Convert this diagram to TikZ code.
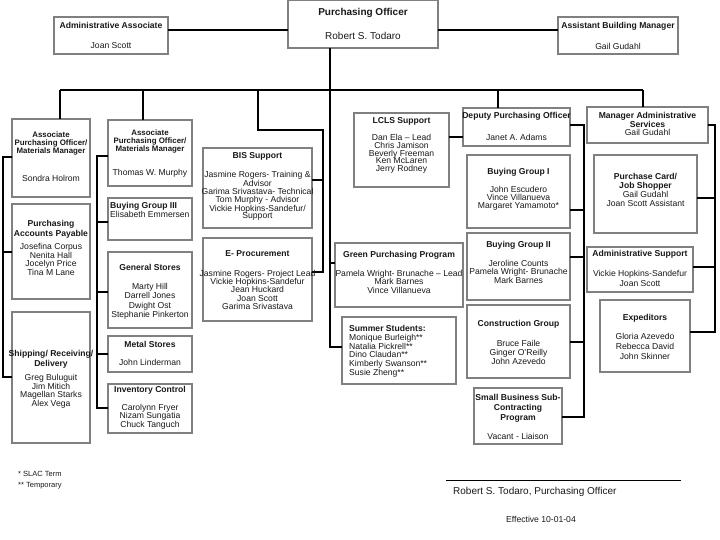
\documentclass[tikz,border=0pt]{standalone}
\usepackage{fontspec}
\setmainfont{Liberation Sans}
\definecolor{boxgray}{RGB}{128,128,128}
\definecolor{txtc}{RGB}{25,25,25}
\newcommand{\fsz}[2]{\fontsize{#1}{#2}\selectfont}
\newcommand{\obx}[5]{\node[box,minimum width={(#4-#2)*1pt},minimum height={(#5-#3)*1pt}] (#1) at ({(#2+#4)/2},{(#3+#5)/2}) {};}
\begin{document}
\begin{tikzpicture}[x=1pt,y=-1pt,
  box/.style={draw=boxgray,line width=1.1pt,fill=white,inner sep=0pt,outer sep=0pt},
  conn/.style={draw=black,line width=1.6pt},
  lbl/.style={inner sep=0pt,align=center,anchor=north,text=txtc,font=\fsz{8.6}{8.6}},
  ttl/.style={lbl,font=\bfseries\fsz{8.6}{8.6}},
  lbll/.style={lbl,align=left,anchor=north west},
  ttll/.style={ttl,align=left,anchor=north west}]
\useasboundingbox[fill=white] (0,0) rectangle (720,540);

% ---------- boxes ----------
\obx{PO}{288}{0.6}{438}{48}
\obx{AA}{54}{17}{168}{54}
\obx{ABM}{558}{17}{678}{54}
\obx{APOa}{12}{119}{90}{197}
\obx{PAP}{12}{204}{90}{299}
\obx{SRD}{12}{312}{90}{443}
\obx{APOb}{108}{120}{192}{186}
\obx{BGiii}{108}{198}{192}{240}
\obx{GS}{108}{252}{192}{328}
\obx{MS}{108}{336}{192}{372}
\obx{IC}{108}{384}{192}{433}
\obx{BIS}{203}{148}{312}{228}
\obx{EP}{203}{238}{312}{321}
\obx{LCLS}{354}{113}{449}{187}
\obx{GPP}{335}{243}{463}{307}
\obx{SS}{342}{317}{456}{384}
\obx{DPO}{463}{108}{570}{146}
\obx{BGi}{467}{155}{570}{228}
\obx{BGii}{467}{233}{570}{300}
\obx{CG}{467}{305}{570}{378}
\obx{SB}{474}{388}{562}{444}
\obx{MAS}{587}{107}{708}{143}
\obx{PC}{594}{155}{697}{233}
\obx{AS}{587}{247}{693}{292}
\obx{EXP}{600}{300}{690}{372}

% ---------- connectors ----------
\coordinate (busL) at (60,90);
\coordinate (busR) at (642.7,90);
\coordinate (trunk) at (330,90);
\coordinate (b2) at (143,90);
\coordinate (b3) at (257.7,90);
\coordinate (k3) at (322.7,130);
\coordinate (b5) at (497.7,90);
\coordinate (lc) at (3,157);
\coordinate (mc) at (97,156);
\coordinate (dc) at (584,125);
\coordinate (ec) at (715,125);

\draw[conn] (AA.east |- 0,30) -- (PO.west |- 0,30);
\draw[conn] (PO.east |- 0,30) -- (ABM.west |- 0,30);
\draw[conn] (busL) -- (busR);
\draw[conn] (PO.south -| trunk) -- (trunk |- 0,347) -- (SS.west |- 0,347);
\draw[conn] (trunk |- 0,263) -- (GPP.west |- 0,263);
\draw[conn] (busL) -- (busL |- APOa.north);
\draw[conn] (b2) -- (b2 |- APOb.north);
\draw[conn] (b3) -- (b3 |- k3) -- (k3) -- (k3 |- 0,272) -- (EP.east |- 0,272);
\draw[conn] (k3 |- 0,180) -- (BIS.east |- 0,180);
\draw[conn] (b5) -- (b5 |- DPO.north);
\draw[conn] (busR) -- (busR |- MAS.north);
% left column
\draw[conn] (APOa.west |- lc) -- (lc) -- (lc |- 0,377) -- (SRD.west |- 0,377);
\draw[conn] (lc |- 0,252) -- (PAP.west |- 0,252);
% second column
\draw[conn] (APOb.west |- mc) -- (mc) -- (mc |- 0,408) -- (IC.west |- 0,408);
\draw[conn] (mc |- 0,222) -- (BGiii.west |- 0,222);
\draw[conn] (mc |- 0,292) -- (GS.west |- 0,292);
\draw[conn] (mc |- 0,354) -- (MS.west |- 0,354);
% LCLS to deputy
\draw[conn] (LCLS.east |- 0,137) -- (DPO.west |- 0,137);
% deputy group
\draw[conn] (DPO.east |- dc) -- (dc) -- (dc |- 0,417) -- (SB.east |- 0,417);
\draw[conn] (dc |- 0,210) -- (BGi.east |- 0,210);
\draw[conn] (dc |- 0,257) -- (BGii.east |- 0,257);
\draw[conn] (dc |- 0,342) -- (CG.east |- 0,342);
% admin services group
\draw[conn] (MAS.east |- ec) -- (ec) -- (ec |- 0,332) -- (EXP.east |- 0,332);
\draw[conn] (ec |- 0,198) -- (PC.east |- 0,198);
\draw[conn] (ec |- 0,267) -- (AS.east |- 0,267);

% ---------- texts ----------
\node[ttl,font=\bfseries\fsz{10}{10}] (tPO) at (363,8.4) {Purchasing Officer};
\node[lbl,font=\fsz{10}{10}] (nPO) at (363,32.4) {Robert S. Todaro};
\node[ttl] (tAA) at (111,22) {Administrative Associate};
\node[lbl] (nAA) at (111,42.5) {Joan Scott};
\node[ttl] (tABM) at (618,22) {Assistant Building Manager};
\node[lbl] (nABM) at (618,43) {Gail Gudahl};

\node[ttl,font=\bfseries\fsz{7.9}{7.6}] (tAPOa) at (51,132) {Associate\\Purchasing Officer/\\Materials Manager};
\node[lbl] (nAPOa) at (51,175) {Sondra Holrom};
\node[ttl,font=\bfseries\fsz{8.6}{10}] (tPAP) at (51,220) {Purchasing\\Accounts Payable};
\node[lbl,font=\fsz{8.6}{8.7}] (nPAP) at (51,243) {Josefina Corpus\\Nenita Hall\\Jocelyn Price\\Tina M Lane};
\node[ttl,font=\bfseries\fsz{8.6}{10}] (tSRD) at (51,350) {Shipping/ Receiving/\\Delivery};
\node[lbl,font=\fsz{8.6}{8.7}] (nSRD) at (51,374) {Greg Buluguit\\Jim Mitich\\Magellan Starks\\Alex Vega};

\node[ttl,font=\bfseries\fsz{7.9}{7.6}] (tAPOb) at (150,130) {Associate\\Purchasing Officer/\\Materials Manager};
\node[lbl] (nAPOb) at (150,169) {Thomas W. Murphy};
\node[ttll] (tBGiii) at (110,202) {Buying Group III};
\node[lbll] (nBGiii) at (110,211.5) {Elisabeth Emmersen};
\node[ttl] (tGS) at (150,264) {General Stores};
\node[lbl,font=\fsz{8.6}{9.3}] (nGS) at (150,283) {Marty Hill\\Darrell Jones\\Dwight Ost\\Stephanie Pinkerton};
\node[ttl] (tMS) at (150,341) {Metal Stores};
\node[lbl] (nMS) at (150,359) {John Linderman};
\node[ttl] (tIC) at (150,386.5) {Inventory Control};
\node[lbl,font=\fsz{8.6}{8.5}] (nIC) at (150,404) {Carolynn Fryer\\Nizam Sungatia\\Chuck Tanguch};

\node[ttl] (tBIS) at (257.5,152) {BIS Support};
\node[lbl,font=\fsz{8.6}{7.8}] (nBIS) at (257.5,171) {Jasmine Rogers- Training \&\\Advisor\\Garima Srivastava- Technical\\Tom Murphy - Advisor\\Vickie Hopkins-Sandefur/\\Support};
\node[ttl] (tEP) at (257.5,250) {E- Procurement};
\node[lbl,font=\fsz{8.6}{8.2}] (nEP) at (257.5,270) {Jasmine Rogers- Project Lead\\Vickie Hopkins-Sandefur\\Jean Huckard\\Joan Scott\\Garima Srivastava};

\node[ttl] (tLCLS) at (401.5,117) {LCLS Support};
\node[lbl,font=\fsz{8.6}{7.8}] (nLCLS) at (401.5,134) {Dan Ela -- Lead\\Chris Jamison\\Beverly Freeman\\Ken McLaren\\Jerry Rodney};
\node[ttl] (tGPP) at (399,251) {Green Purchasing Program};
\node[lbl,font=\fsz{8.6}{8.5}] (nGPP) at (399,270) {Pamela Wright- Brunache -- Lead\\Mark Barnes\\Vince Villanueva};
\node[ttll] (tSS) at (349,325) {Summer Students:};
\node[lbll,font=\fsz{8.6}{8.7}] (nSS) at (349,334) {Monique Burleigh**\\Natalia Pickrell**\\Dino Claudan**\\Kimberly Swanson**\\Susie Zheng**};

\node[ttl] (tDPO) at (516.5,112) {Deputy Purchasing Officer};
\node[lbl] (nDPO) at (516.5,134) {Janet A. Adams};
\node[ttl] (tBGi) at (518.5,168) {Buying Group I};
\node[lbl,font=\fsz{8.6}{8}] (nBGi) at (518.5,186) {John Escudero\\Vince Villanueva\\Margaret Yamamoto*};
\node[ttl] (tBGii) at (518.5,241) {Buying Group II};
\node[lbl,font=\fsz{8.6}{8}] (nBGii) at (518.5,260) {Jeroline Counts\\Pamela Wright- Brunache\\Mark Barnes};
\node[ttl] (tCG) at (518.5,320) {Construction Group};
\node[lbl,font=\fsz{8.6}{9}] (nCG) at (518.5,340) {Bruce Faile\\Ginger O'Reilly\\John Azevedo};
\node[ttl,font=\bfseries\fsz{8.6}{10}] (tSB) at (518,394) {Small Business Sub-\\Contracting\\Program};
\node[lbl] (nSB) at (518,433) {Vacant - Liaison};

\node[ttl,font=\bfseries\fsz{8.6}{8.7}] (tMAS) at (647.5,112) {Manager Administrative\\Services};
\node[lbl] (nMAS) at (647.5,129.5) {Gail Gudahl};
\node[ttl,font=\bfseries\fsz{8.6}{9}] (tPC) at (645.5,173) {Purchase Card/\\Job Shopper};
\node[lbl,font=\fsz{8.6}{9}] (nPC) at (645.5,191) {Gail Gudahl\\Joan Scott Assistant};
\node[ttl] (tAS) at (640,250) {Administrative Support};
\node[lbl,font=\fsz{8.6}{10}] (nAS) at (640,270) {Vickie Hopkins-Sandefur\\Joan Scott};
\node[ttl] (tEXP) at (645,314) {Expeditors};
\node[lbl,font=\fsz{8.6}{10}] (nEXP) at (645,333) {Gloria Azevedo\\Rebecca David\\John Skinner};

% ---------- footer ----------
\node[lbll,font=\fsz{7.5}{11}] (notes) at (18,471.5) {* SLAC Term\\** Temporary};
\coordinate (sigL) at (446,480);
\coordinate (sigR) at (681,480);
\draw[line width=0.8pt] (sigL) -- (sigR);
\node[lbll,font=\fsz{10}{10}] (sig) at (453,487) {Robert S. Todaro, Purchasing Officer};
\node[lbl] (eff) at (541,516) {Effective 10-01-04};
\end{tikzpicture}
\end{document}
